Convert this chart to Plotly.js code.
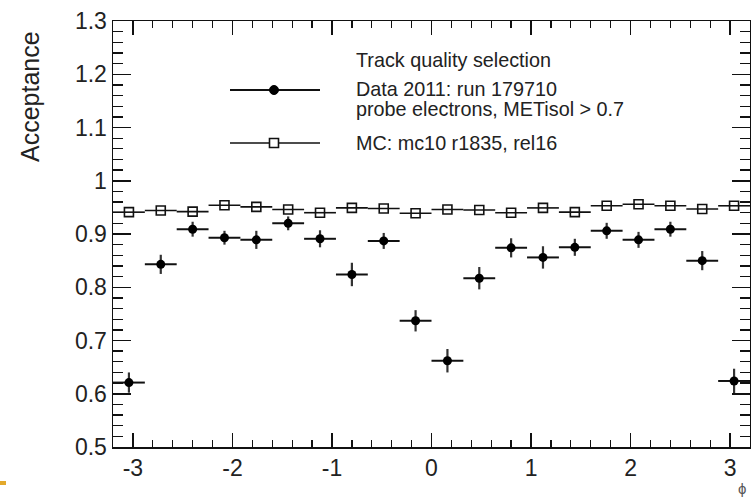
<!DOCTYPE html>
<html>
<head>
<meta charset="utf-8">
<script src="https://cdn.plot.ly/plotly-3.0.1.min.js"></script>
<style>html,body{margin:0;padding:0;background:#fff;}#chart{width:751px;height:498px;}</style>
</head>
<body>
<div id="chart"></div>
<script>
// bin centres in phi (20 bins of width 0.32 from -3.2 to 3.2)
var binCenters = [-3.04, -2.72, -2.40, -2.08, -1.76, -1.44, -1.12, -0.80, -0.48, -0.16,
                   0.16,  0.48,  0.80,  1.12,  1.44,  1.76,  2.08,  2.40,  2.72,  3.04];
var binHalfWidth = [0.16,0.16,0.16,0.16,0.16,0.16,0.16,0.16,0.16,0.16,
                    0.16,0.16,0.16,0.16,0.16,0.16,0.16,0.16,0.16,0.16];
// Data 2011: run 179710
var dataAcc = [0.621, 0.843, 0.909, 0.893, 0.889, 0.920, 0.891, 0.824, 0.887, 0.737,
               0.662, 0.817, 0.874, 0.856, 0.875, 0.906, 0.889, 0.909, 0.850, 0.624];
var dataErr = [0.019, 0.018, 0.014, 0.013, 0.017, 0.013, 0.016, 0.022, 0.015, 0.020,
               0.022, 0.021, 0.018, 0.021, 0.016, 0.015, 0.015, 0.014, 0.018, 0.023];
// MC: mc10 r1835, rel16
var mcAcc = [0.941, 0.944, 0.942, 0.954, 0.951, 0.946, 0.940, 0.949, 0.948, 0.939,
             0.946, 0.945, 0.940, 0.949, 0.941, 0.953, 0.956, 0.953, 0.947, 0.953];
// tick labels
var xTickVals = [-3, -2, -1, 0, 1, 2, 3];
var xTickText = ['-3', '-2', '-1', '0', '1', '2', '3'];
var yTickVals = [0.5, 0.6, 0.7, 0.8, 0.9, 1.0, 1.1, 1.2, 1.3];
var yTickText = ['0.5', '0.6', '0.7', '0.8', '0.9', '1', '1.1', '1.2', '1.3'];

var fontFam = '"Liberation Sans", Arial, Helvetica, sans-serif';

var traces = [
  {
    type: 'scatter', mode: 'markers', name: 'MC',
    x: binCenters, y: mcAcc,
    error_x: {type: 'data', array: binHalfWidth, visible: true, width: 0, thickness: 1.6, color: '#111'},
    marker: {symbol: 'square-open', size: 9, color: '#111', line: {width: 1.6, color: '#111'}},
    showlegend: false, hoverinfo: 'x+y'
  },
  {
    type: 'scatter', mode: 'markers', name: 'Data',
    x: binCenters, y: dataAcc,
    error_x: {type: 'data', array: binHalfWidth, visible: true, width: 0, thickness: 2, color: '#111'},
    error_y: {type: 'data', array: dataErr, visible: true, width: 0, thickness: 2.2, color: '#333'},
    marker: {symbol: 'circle', size: 9, color: '#000'},
    showlegend: false, hoverinfo: 'x+y'
  }
];

function px2x(p){ return (p - 113) / 637; }
function px2y(p){ return (447 - p) / 426; }

var legX0 = px2x(230), legX1 = px2x(320), legXc = px2x(274);
var legYData = px2y(90), legYMC = px2y(143);

var shapes = [
  {type: 'line', xref: 'paper', yref: 'paper', x0: legX0, x1: legX1, y0: legYData, y1: legYData, line: {color: '#111', width: 2}},
  {type: 'circle', xref: 'paper', yref: 'paper', xsizemode: 'pixel', ysizemode: 'pixel',
   xanchor: legXc, yanchor: legYData, x0: -4.5, x1: 4.5, y0: -4.5, y1: 4.5,
   fillcolor: '#000', line: {color: '#000', width: 1}},
  {type: 'line', xref: 'paper', yref: 'paper', x0: legX0, x1: legX1, y0: legYMC, y1: legYMC, line: {color: '#111', width: 1.6}},
  {type: 'rect', xref: 'paper', yref: 'paper', xsizemode: 'pixel', ysizemode: 'pixel',
   xanchor: legXc, yanchor: legYMC, x0: -4.5, x1: 4.5, y0: -4.5, y1: 4.5,
   fillcolor: '#fff', line: {color: '#111', width: 1.6}},
  // small orange mark at bottom-left corner of the slide
  {type: 'rect', xref: 'paper', yref: 'paper', x0: px2x(0), x1: px2x(6), y0: px2y(485), y1: px2y(481),
   fillcolor: '#E3A92B', line: {width: 0}}
];

var txtFont = {family: fontFam, size: 19.8, color: '#222'};
var annotations = [
  {xref: 'paper', yref: 'paper', x: px2x(354), y: px2y(60), xanchor: 'left', yanchor: 'middle', showarrow: false, text: 'Track quality selection', font: txtFont},
  {xref: 'paper', yref: 'paper', x: px2x(354), y: px2y(89), xanchor: 'left', yanchor: 'middle', showarrow: false, text: 'Data 2011: run 179710', font: txtFont},
  {xref: 'paper', yref: 'paper', x: px2x(354), y: px2y(109), xanchor: 'left', yanchor: 'middle', showarrow: false, text: 'probe electrons, METisol &gt; 0.7', font: txtFont},
  {xref: 'paper', yref: 'paper', x: px2x(354), y: px2y(143), xanchor: 'left', yanchor: 'middle', showarrow: false, text: 'MC: mc10 r1835, rel16', font: txtFont},
  {xref: 'paper', yref: 'paper', x: px2x(30), y: px2y(97), xanchor: 'center', yanchor: 'middle', showarrow: false, textangle: -90,
   text: 'Acceptance', font: {family: fontFam, size: 25, color: '#222'}},
  {xref: 'paper', yref: 'paper', x: px2x(742), y: px2y(488), xanchor: 'center', yanchor: 'middle', showarrow: false,
   text: 'ϕ', font: {family: fontFam, size: 15, color: '#555'}}
];

var layout = {
  width: 751, height: 498,
  margin: {l: 113, r: 1, t: 21, b: 51, pad: 0},
  paper_bgcolor: '#fff', plot_bgcolor: '#fff',
  showlegend: false,
  xaxis: {
    range: [-3.2, 3.2], tickmode: 'array', tickvals: xTickVals, ticktext: xTickText,
    ticks: 'inside', ticklen: 14, tickwidth: 1.5, tickcolor: '#111',
    showline: true, linewidth: 1.5, linecolor: '#111', mirror: 'ticks',
    showgrid: false, zeroline: false,
    minor: {dtick: 0.2, tick0: 0, ticks: 'inside', ticklen: 7, tickwidth: 1.3, tickcolor: '#111', showgrid: false},
    tickfont: {family: fontFam, size: 23, color: '#222'}
  },
  yaxis: {
    range: [0.5, 1.3], tickmode: 'array', tickvals: yTickVals, ticktext: yTickText,
    ticks: 'inside', ticklen: 18, tickwidth: 1.5, tickcolor: '#111',
    showline: true, linewidth: 1.5, linecolor: '#111', mirror: 'ticks',
    showgrid: false, zeroline: false,
    minor: {dtick: 0.02, tick0: 0.5, ticks: 'inside', ticklen: 10, tickwidth: 1.3, tickcolor: '#111', showgrid: false},
    tickfont: {family: fontFam, size: 23, color: '#222'}
  },
  shapes: shapes,
  annotations: annotations
};

Plotly.newPlot('chart', traces, layout, {displayModeBar: false, staticPlot: true});
</script>
</body>
</html>
